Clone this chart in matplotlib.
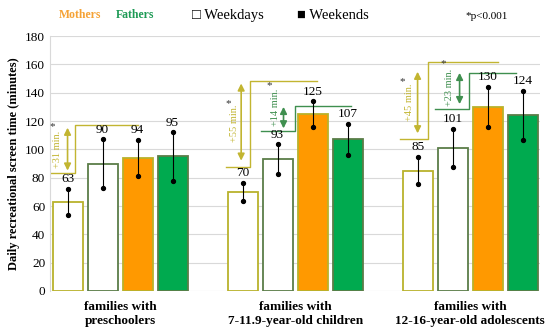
import numpy as np
import matplotlib
matplotlib.use('Agg')
import matplotlib.pyplot as plt

plt.rcParams['font.family'] = ['Liberation Serif', 'DejaVu Serif', 'DejaVu Sans']

# datos
groups = ["families with\npreschoolers",
          "families with\n7-11.9-year-old children",
          "families with\n12-16-year-old adolescents"]
mothers_wd = [63, 70, 85]
fathers_wd = [90, 93, 101]
mothers_we = [94, 125, 130]
fathers_we = [95, 107, 124]
mothers_wd_sd = [9, 6.5, 9.7]
fathers_wd_sd = [17, 10.5, 13.5]
mothers_we_sd = [12.7, 9, 14]
fathers_we_sd = [17, 11, 17.5]

diff_mothers = ["+31 min.", "+55 min.", "+45 min."]
diff_fathers = [None, "+14 min.", "+23 min."]

# colores
ORANGE = '#ff9900'
GREEN = '#00aa4f'
OLIVE = '#b9b22c'
DKGREEN = '#5b7d48'
ANN_OLIVE = '#c2b531'
ANN_GREEN = '#3f8f4f'

fig = plt.figure(figsize=(5.5, 3.32), dpi=100)
ax = fig.add_axes([0.091, 0.1235, 0.891, 0.768])

x = np.arange(len(groups)) * 5.0
w = 0.86

series = [
    (mothers_wd, mothers_wd_sd, 'white', OLIVE, -1.5),
    (fathers_wd, fathers_wd_sd, 'white', DKGREEN, -0.5),
    (mothers_we, mothers_we_sd, ORANGE, OLIVE, 0.5),
    (fathers_we, fathers_we_sd, GREEN, DKGREEN, 1.5),
]

for vals, sds, fc, ec, off in series:
    pos = x + off
    ax.bar(pos, vals, width=w, color=fc, edgecolor=ec, linewidth=1.3, zorder=2)
    for p, v, s in zip(pos, vals, sds):
        ax.plot([p, p], [v - s, v + s], color='black', lw=0.8, zorder=3)
        ax.plot([p, p], [v - s, v + s], 'o', color='black', ms=2.8, zorder=3)
        ax.text(p, v + s + 2.5, f"{v}", ha='center', va='bottom', fontsize=9.5, zorder=4)

# corchetes de diferencias (posiciones de dibujo)
brackets_m = [
    dict(x0=-1.97, xv=-1.30, x1=0.5, yb=83, yt=117.3, ax_=-1.50, a0=85, a1=115.3, tx=-1.78, ty=100, sx=-1.95, sy=116),
    dict(x0=3.04, xv=3.70, x1=5.64, yb=87.5, yt=148.3, ax_=3.46, a0=92, a1=146.5, tx=3.27, ty=118.6, sx=3.08, sy=132),
    dict(x0=7.99, xv=8.79, x1=10.79, yb=107, yt=161.4, ax_=8.50, a0=111.3, a1=154.8, tx=8.27, ty=133.5, sx=8.07, sy=148),
]
brackets_f = [
    None,
    dict(x0=4.03, xv=4.99, x1=6.59, yb=113, yt=130.5, ax_=4.67, a0=114.8, a1=130, tx=4.44, ty=129.5, sx=4.26, sy=145),
    dict(x0=9.01, xv=9.96, x1=11.32, yb=128.2, yt=154.1, ax_=9.70, a0=131.9, a1=154, tx=9.41, ty=143.6, sx=9.24, sy=160.5),
]

def draw_bracket(b, label, col):
    ax.plot([b['x0'], b['xv'], b['xv'], b['x1']], [b['yb'], b['yb'], b['yt'], b['yt']],
            color=col, lw=1.0, zorder=1)
    ax.annotate('', xy=(b['ax_'], b['a1']), xytext=(b['ax_'], b['a0']),
                arrowprops=dict(arrowstyle='<|-|>', color=col, lw=1.2, mutation_scale=10,
                                shrinkA=0, shrinkB=0), zorder=5)
    ax.text(b['tx'], b['ty'], label, rotation=90, ha='center', va='center',
            fontsize=7.5, color=col, zorder=5)
    ax.text(b['sx'], b['sy'], '*', ha='center', va='center', fontsize=8, color='#333333')

for b, lab in zip(brackets_m, diff_mothers):
    draw_bracket(b, lab, ANN_OLIVE)
for b, lab in zip(brackets_f, diff_fathers):
    if b is not None:
        draw_bracket(b, lab, ANN_GREEN)

ax.set_xlim(-2.0, 12.0)
ax.set_ylim(0, 180)
ax.set_yticks(np.arange(0, 181, 20))
ax.set_xticks(x)
ax.set_xticklabels(groups, fontsize=9.5, fontweight='bold', linespacing=1.3)
ax.tick_params(axis='both', length=0, labelsize=9.5)
ax.tick_params(axis='x', pad=7)
ax.grid(axis='y', color='#d9d9d9', lw=0.8, zorder=0)
ax.set_axisbelow(True)
for s in ['top', 'right', 'bottom']:
    ax.spines[s].set_visible(False)
ax.spines['left'].set_color('#d9d9d9')
ax.set_ylabel('Daily recreational screen time (minutes)', fontsize=9, fontweight='bold')

# leyenda superior
fig.text(0.145, 0.955, 'Mothers', color='#f5a235', fontsize=8.5, fontweight='bold', ha='center', va='center')
fig.text(0.245, 0.955, 'Fathers', color='#1d9a55', fontsize=8.5, fontweight='bold', ha='center', va='center')
fig.text(0.35, 0.952, '□ Weekdays', fontsize=10.5, ha='left', va='center',
         family=['Liberation Serif', 'DejaVu Sans'])
fig.text(0.54, 0.952, '■ Weekends', fontsize=10.5, ha='left', va='center',
         family=['Liberation Serif', 'DejaVu Sans'])
fig.text(0.885, 0.95, '*p<0.001', fontsize=8, ha='center', va='center')

plt.savefig('out.png', dpi=100)
plt.close()
